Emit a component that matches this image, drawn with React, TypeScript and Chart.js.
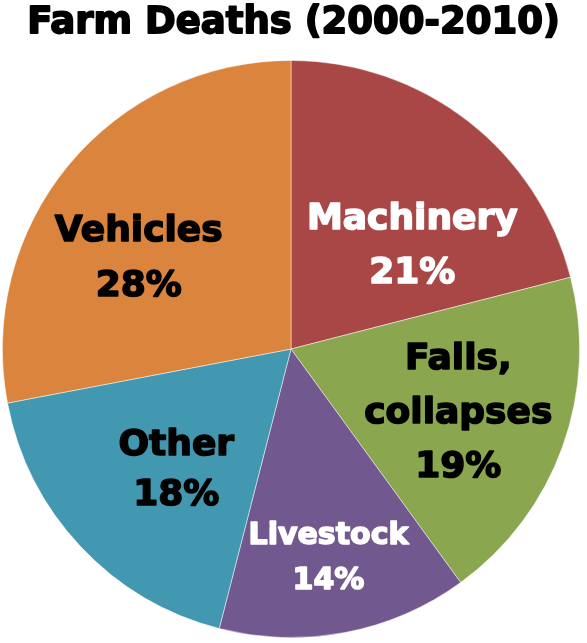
import React, { useEffect, useRef } from "react";
import { Chart, registerables } from "chart.js";

Chart.register(...registerables);

const titleText = "Farm Deaths (2000-2010)";
const categories = ["Machinery", "Falls, collapses", "Livestock", "Other", "Vehicles"];
const values = [21, 19, 14, 18, 28];
const labelLines = [
  ["Machinery", "21%"],
  ["Falls,", "collapses", "19%"],
  ["Livestock", "14%"],
  ["Other", "18%"],
  ["Vehicles", "28%"],
];
const sliceColors = ["#A94746", "#8AA64F", "#71588F", "#4198B0", "#DA843E"];
const labelColors = ["#FFFFFF", "#000000", "#FFFFFF", "#000000", "#000000"];
// label placement: fraction of radius, angular shift (degrees), font size, line spacing
const labelRadius = [0.558, 0.617, 0.726, 0.571, 0.62];
const labelShiftDeg = [11.1, 0.2, 0.5, -2.7, -7.9];
const labelFontSize = [36, 36, 30, 36, 36];
const labelLineGap = [54, 54, 45, 50, 55];

const FONT = "'DejaVu Sans', sans-serif";

function heavyText(ctx: CanvasRenderingContext2D, t: string, x: number, y: number, w: number) {
  ctx.lineWidth = w;
  ctx.lineJoin = "round";
  ctx.strokeStyle = ctx.fillStyle as string;
  ctx.strokeText(t, x, y);
  ctx.fillText(t, x, y);
}

const labelPlugin = {
  id: "sliceLabels",
  afterDatasetsDraw(chart: any) {
    const ctx = chart.ctx;
    const meta = chart.getDatasetMeta(0);
    ctx.save();
    ctx.textAlign = "center";
    ctx.textBaseline = "alphabetic";
    meta.data.forEach((arc: any, i: number) => {
      const p = arc.getProps(["x", "y", "startAngle", "endAngle", "outerRadius"], true);
      const mid = (p.startAngle + p.endAngle) / 2 + (labelShiftDeg[i] * Math.PI) / 180;
      const r = p.outerRadius * labelRadius[i];
      const cx = p.x + Math.cos(mid) * r;
      const cy = p.y + Math.sin(mid) * r;
      const fs = labelFontSize[i];
      const cap = fs * 0.729;
      const lines = labelLines[i];
      const total = (lines.length - 1) * labelLineGap[i] + cap;
      const top = cy - total / 2;
      ctx.font = `bold ${fs}px ${FONT}`;
      ctx.fillStyle = labelColors[i];
      lines.forEach((t, j) => {
        heavyText(ctx, t, cx, top + cap + j * labelLineGap[i], 1.6);
      });
    });
    // title
    ctx.font = `bold 37px ${FONT}`;
    ctx.fillStyle = "#000000";
    heavyText(ctx, titleText, chart.width / 2, 33, 1.8);
    ctx.restore();
  },
};

export default function App() {
  const ref = useRef<HTMLCanvasElement | null>(null);
  useEffect(() => {
    if (!ref.current) return;
    const chart = new Chart(ref.current, {
      type: "pie",
      data: {
        labels: categories,
        datasets: [
          {
            data: values,
            backgroundColor: sliceColors,
            borderColor: "rgba(255,255,255,0.6)",
            borderWidth: 0.8,
          },
        ],
      },
      options: {
        responsive: false,
        animation: false,
        layout: { padding: { left: 2, right: 7, top: 60, bottom: 5 } },
        plugins: {
          legend: { display: false },
          tooltip: { enabled: false },
          title: { display: false },
        },
      },
      plugins: [labelPlugin],
    });
    return () => chart.destroy();
  }, []);
  return (
    <div style={{ position: "absolute", left: 0, top: 0, width: 587, height: 643, background: "#fff" }}>
      <canvas ref={ref} width={587} height={643} style={{ display: "block", width: 587, height: 643 }} />
    </div>
  );
}
